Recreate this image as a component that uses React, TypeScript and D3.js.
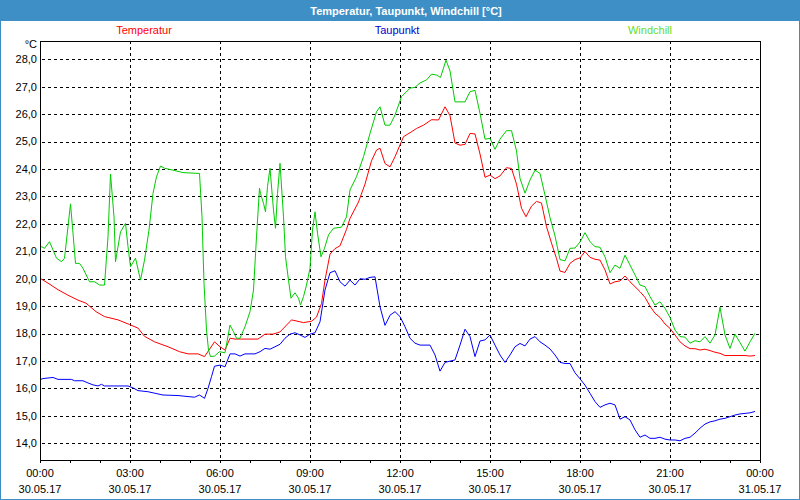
import { useMemo } from 'react';
import * as d3 from 'd3';

// [minutes since 30.05.17 00:00, °C]
const temperatur: [number, number][] = [
  [0, 20.02], [16, 19.84], [36, 19.6], [56, 19.4], [76, 19.22], [92, 19.11], [112, 18.8], [129, 18.62],
  [156, 18.5], [179, 18.33], [196, 18.2], [209, 17.9], [229, 17.7], [256, 17.52], [279, 17.34], [296, 17.26],
  [316, 17.26], [329, 17.16], [349, 17.7], [360, 17.52], [370, 17.4], [380, 17.83], [390, 17.8], [436, 17.8],
  [450, 17.98], [466, 17.98], [480, 18.06], [503, 18.5], [527, 18.4], [543, 18.45], [553, 18.6], [563, 19.1],
  [570, 19.95], [580, 20.9], [590, 21.1], [600, 21.2], [613, 21.8], [620, 22.2], [637, 22.8], [650, 23.45],
  [663, 24.3], [673, 24.69], [680, 24.76], [690, 24.2], [700, 24.08], [710, 24.45], [727, 25.18], [743, 25.36],
  [753, 25.48], [767, 25.6], [783, 25.8], [797, 25.79], [810, 26.27], [820, 25.95], [830, 24.95], [840, 24.87],
  [850, 24.9], [860, 25.3], [870, 25.28], [880, 24.55], [890, 23.7], [900, 23.78], [910, 23.65], [920, 23.75],
  [933, 24.05], [943, 24.02], [953, 23.45], [963, 22.57], [972, 22.26], [983, 22.65], [993, 22.82], [1003, 22.76],
  [1013, 21.9], [1023, 21.3], [1033, 20.74], [1040, 20.28], [1050, 20.23], [1060, 20.56], [1070, 20.7],
  [1080, 20.76], [1090, 20.99], [1100, 20.78], [1110, 20.71], [1120, 20.68], [1130, 20.32], [1140, 19.81],
  [1150, 19.89], [1160, 19.92], [1170, 20.1], [1180, 19.89], [1190, 19.71], [1200, 19.53], [1210, 19.32],
  [1220, 19.0], [1230, 18.74], [1240, 18.59], [1250, 18.35], [1260, 18.19], [1270, 17.95], [1280, 17.7],
  [1290, 17.55], [1300, 17.45], [1310, 17.45], [1320, 17.4], [1330, 17.43], [1340, 17.38], [1350, 17.32],
  [1360, 17.28], [1370, 17.2], [1390, 17.2], [1410, 17.2], [1420, 17.18], [1430, 17.2],
];

const taupunkt: [number, number][] = [
  [0, 16.32], [6, 16.36], [26, 16.4], [36, 16.33], [63, 16.33], [69, 16.28], [86, 16.28], [96, 16.2],
  [106, 16.13], [116, 16.09], [123, 16.15], [129, 16.09], [176, 16.09], [186, 16.02], [196, 15.92], [216, 15.88],
  [226, 15.84], [246, 15.76], [276, 15.74], [309, 15.68], [319, 15.76], [329, 15.64], [336, 16.0], [343, 16.43],
  [349, 16.81], [360, 16.85], [370, 16.79], [380, 17.26], [390, 17.26], [400, 17.18], [410, 17.26], [430, 17.26],
  [440, 17.34], [450, 17.46], [460, 17.43], [470, 17.52], [480, 17.61], [490, 17.83], [500, 17.98], [510, 18.03],
  [520, 17.95], [530, 17.86], [540, 17.98], [550, 18.03], [560, 18.43], [570, 19.59], [580, 20.22], [590, 20.29],
  [600, 19.89], [610, 19.73], [620, 19.95], [630, 19.77], [640, 20.0], [650, 19.98], [660, 20.05], [670, 20.07],
  [680, 18.98], [690, 18.3], [700, 18.67], [710, 18.8], [720, 18.62], [730, 18.25], [740, 17.83], [750, 17.65],
  [760, 17.58], [780, 17.58], [790, 17.22], [800, 16.63], [810, 16.95], [830, 17.04], [840, 17.58], [850, 18.16],
  [860, 17.89], [870, 17.16], [880, 17.73], [890, 17.77], [900, 17.95], [910, 17.58], [920, 17.22], [930, 16.95],
  [940, 17.22], [950, 17.52], [960, 17.64], [970, 17.55], [980, 17.8], [990, 17.89], [1000, 17.7], [1010, 17.58],
  [1020, 17.44], [1030, 17.22], [1040, 16.95], [1050, 16.91], [1060, 16.91], [1070, 16.57], [1080, 16.35],
  [1090, 16.12], [1100, 15.82], [1110, 15.52], [1120, 15.31], [1130, 15.4], [1140, 15.46], [1150, 15.4],
  [1160, 14.88], [1170, 14.97], [1180, 14.85], [1190, 14.49], [1200, 14.22], [1210, 14.3], [1220, 14.18],
  [1230, 14.18], [1240, 14.22], [1250, 14.15], [1260, 14.12], [1270, 14.12], [1280, 14.09], [1290, 14.18],
  [1300, 14.22], [1310, 14.37], [1320, 14.55], [1330, 14.7], [1340, 14.78], [1350, 14.82], [1360, 14.88],
  [1370, 14.91], [1380, 14.97], [1390, 15.03], [1400, 15.07], [1410, 15.09], [1420, 15.11], [1430, 15.16],
];

const windchill: [number, number][] = [
  [0, 21.2], [3, 21.17], [9, 21.11], [19, 21.35], [26, 21.05], [33, 20.75], [43, 20.62], [49, 20.75],
  [56, 21.9], [61, 22.73], [66, 21.66], [71, 20.56], [79, 20.56], [86, 20.38], [99, 19.89], [109, 19.89],
  [119, 19.77], [129, 19.77], [136, 21.53], [141, 23.82], [148, 22.26], [151, 20.62], [156, 21.17], [161, 21.71],
  [171, 22.02], [176, 21.17], [181, 20.44], [191, 20.75], [201, 19.95], [209, 20.68], [218, 21.78], [226, 23.11],
  [233, 23.72], [241, 24.11], [249, 24.03], [266, 23.96], [286, 23.87], [319, 23.84], [324, 22.26], [328, 19.83],
  [333, 18.13], [337, 17.4], [341, 17.16], [349, 17.18], [359, 17.34], [370, 17.3], [380, 18.31], [387, 18.07],
  [393, 17.83], [400, 17.83], [410, 18.25], [420, 18.8], [427, 19.59], [433, 21.53], [439, 23.3], [441, 23.11],
  [447, 22.75], [451, 22.44], [455, 23.36], [460, 24.03], [467, 22.5], [471, 21.84], [475, 23.11], [480, 24.21],
  [487, 22.26], [491, 20.8], [497, 19.95], [502, 19.29], [510, 19.49], [517, 19.29], [521, 19.04], [527, 19.35],
  [533, 19.77], [540, 20.38], [545, 21.78], [550, 22.44], [555, 21.66], [562, 20.8], [569, 21.11], [577, 21.6],
  [587, 21.84], [603, 21.88], [613, 22.26], [620, 23.24], [633, 23.72], [647, 24.45], [660, 25.3], [673, 26.09],
  [680, 26.27], [690, 25.6], [700, 25.6], [710, 25.97], [723, 26.64], [740, 26.95], [750, 26.98], [760, 27.14],
  [773, 27.25], [783, 27.46], [793, 27.43], [801, 27.34], [812, 27.97], [820, 27.58], [830, 26.45], [850, 26.45],
  [860, 26.82], [870, 26.87], [880, 26.03], [890, 25.09], [900, 25.12], [910, 24.72], [920, 25.09], [933, 25.4],
  [943, 25.4], [953, 24.66], [960, 23.66], [970, 23.12], [980, 23.6], [990, 23.96], [1000, 23.84], [1010, 23.05],
  [1020, 22.23], [1030, 21.56], [1040, 20.7], [1050, 20.65], [1060, 21.11], [1070, 21.12], [1080, 21.34],
  [1090, 21.68], [1100, 21.35], [1110, 21.17], [1120, 21.15], [1130, 20.8], [1140, 20.22], [1150, 20.5],
  [1160, 20.38], [1170, 20.86], [1180, 20.5], [1190, 20.14], [1200, 19.77], [1210, 19.71], [1220, 19.35],
  [1230, 19.04], [1240, 19.16], [1250, 18.92], [1260, 18.59], [1270, 18.13], [1280, 17.89], [1290, 17.87],
  [1300, 17.65], [1310, 17.74], [1320, 17.7], [1330, 17.89], [1340, 17.65], [1350, 17.95], [1360, 18.96],
  [1370, 17.95], [1380, 17.46], [1390, 17.98], [1400, 17.67], [1410, 17.36], [1420, 17.7], [1430, 18.01],
];

const timeLabels = ['00:00', '03:00', '06:00', '09:00', '12:00', '15:00', '18:00', '21:00', '00:00'];
const dateLabels = ['30.05.17', '30.05.17', '30.05.17', '30.05.17', '30.05.17', '30.05.17', '30.05.17', '30.05.17', '31.05.17'];
const yTicks = [14, 15, 16, 17, 18, 19, 20, 21, 22, 23, 24, 25, 26, 27, 28];

const series = [
  { name: 'Temperatur', data: temperatur, color: '#ff0000', labelColor: '#ff0000', labelX: 144 },
  { name: 'Taupunkt', data: taupunkt, color: '#0000ff', labelColor: '#0000cc', labelX: 397 },
  { name: 'Windchill', data: windchill, color: '#00cc00', labelColor: '#66dd22', labelX: 650 },
];

const W = 800;
const H = 500;
const margin = { top: 41, right: 40, bottom: 40, left: 40 };
const blue = '#3d8fc6';
const font = 'Tahoma, "Liberation Sans", "DejaVu Sans", sans-serif';

export default function App() {
  const x = useMemo(() => d3.scaleLinear().domain([0, 1440]).range([margin.left, W - margin.right]), []);
  const y = useMemo(() => d3.scaleLinear().domain([13.39, 28.67]).range([H - margin.bottom, margin.top]), []);

  const line = d3.line<[number, number]>()
    .x(d => x(d[0]))
    .y(d => y(d[1]));

  const fmt = (v: number) => d3.format('.1f')(v).replace('.', ',');
  const x0 = margin.left;
  const x1 = W - margin.right;
  const y0 = H - margin.bottom;
  const y1 = margin.top;
  const hourTicks = d3.range(0, 1441, 60);
  const majorTicks = d3.range(0, 1441, 180);

  return (
    <svg width={W} height={H} style={{ position: 'absolute', left: 0, top: 0, fontFamily: font }}>
      <rect x={0} y={0} width={W} height={H} fill="#ffffff" />
      {/* title bar + frame */}
      <rect x={0} y={0} width={W} height={21} fill={blue} />
      <rect x={0.5} y={0.5} width={W - 1} height={H - 1} fill="none" stroke={blue} />
      <text x={406} y={14.5} textAnchor="middle" fill="#ffffff" fontSize={11} fontWeight="bold">
        Temperatur, Taupunkt, Windchill [°C]
      </text>

      {series.map(s => (
        <text key={s.name} x={s.labelX} y={34} textAnchor="middle" fill={s.labelColor} fontSize={11}>
          {s.name}
        </text>
      ))}

      {/* grid */}
      <g stroke="#000" strokeDasharray="3,3" shapeRendering="crispEdges">
        {yTicks.map(t => (
          <line key={t} x1={x0 + 2} x2={x1} y1={Math.round(y(t)) + 0.5} y2={Math.round(y(t)) + 0.5} />
        ))}
        {majorTicks.slice(1, -1).map(t => (
          <line key={t} x1={Math.round(x(t)) + 0.5} x2={Math.round(x(t)) + 0.5} y1={y1} y2={y0} />
        ))}
      </g>

      {/* data */}
      <g fill="none" strokeWidth={1}>
        {series.map(s => (
          <path key={s.name} d={line(s.data) ?? ''} stroke={s.color} />
        ))}
      </g>

      {/* plot frame */}
      <g stroke="#000" shapeRendering="crispEdges">
        <rect x={x0 + 0.5} y={y1 + 0.5} width={x1 - x0} height={y0 - y1} fill="none" />
        {hourTicks.map(t => (
          <line key={t} x1={Math.round(x(t)) + 0.5} x2={Math.round(x(t)) + 0.5} y1={y0} y2={y0 + 3} />
        ))}
      </g>

      {/* y labels */}
      <g fontSize={11} fill="#000" textAnchor="end">
        <text x={37} y={48}>°C</text>
        {yTicks.map(t => (
          <text key={t} x={37} y={y(t)} dy="0.35em">{fmt(t)}</text>
        ))}
      </g>

      {/* x labels */}
      <g fontSize={11} fill="#000" textAnchor="middle">
        {majorTicks.map((t, i) => (
          <g key={t}>
            <text x={x(t)} y={477}>{timeLabels[i]}</text>
            <text x={x(t)} y={493}>{dateLabels[i]}</text>
          </g>
        ))}
      </g>
    </svg>
  );
}
